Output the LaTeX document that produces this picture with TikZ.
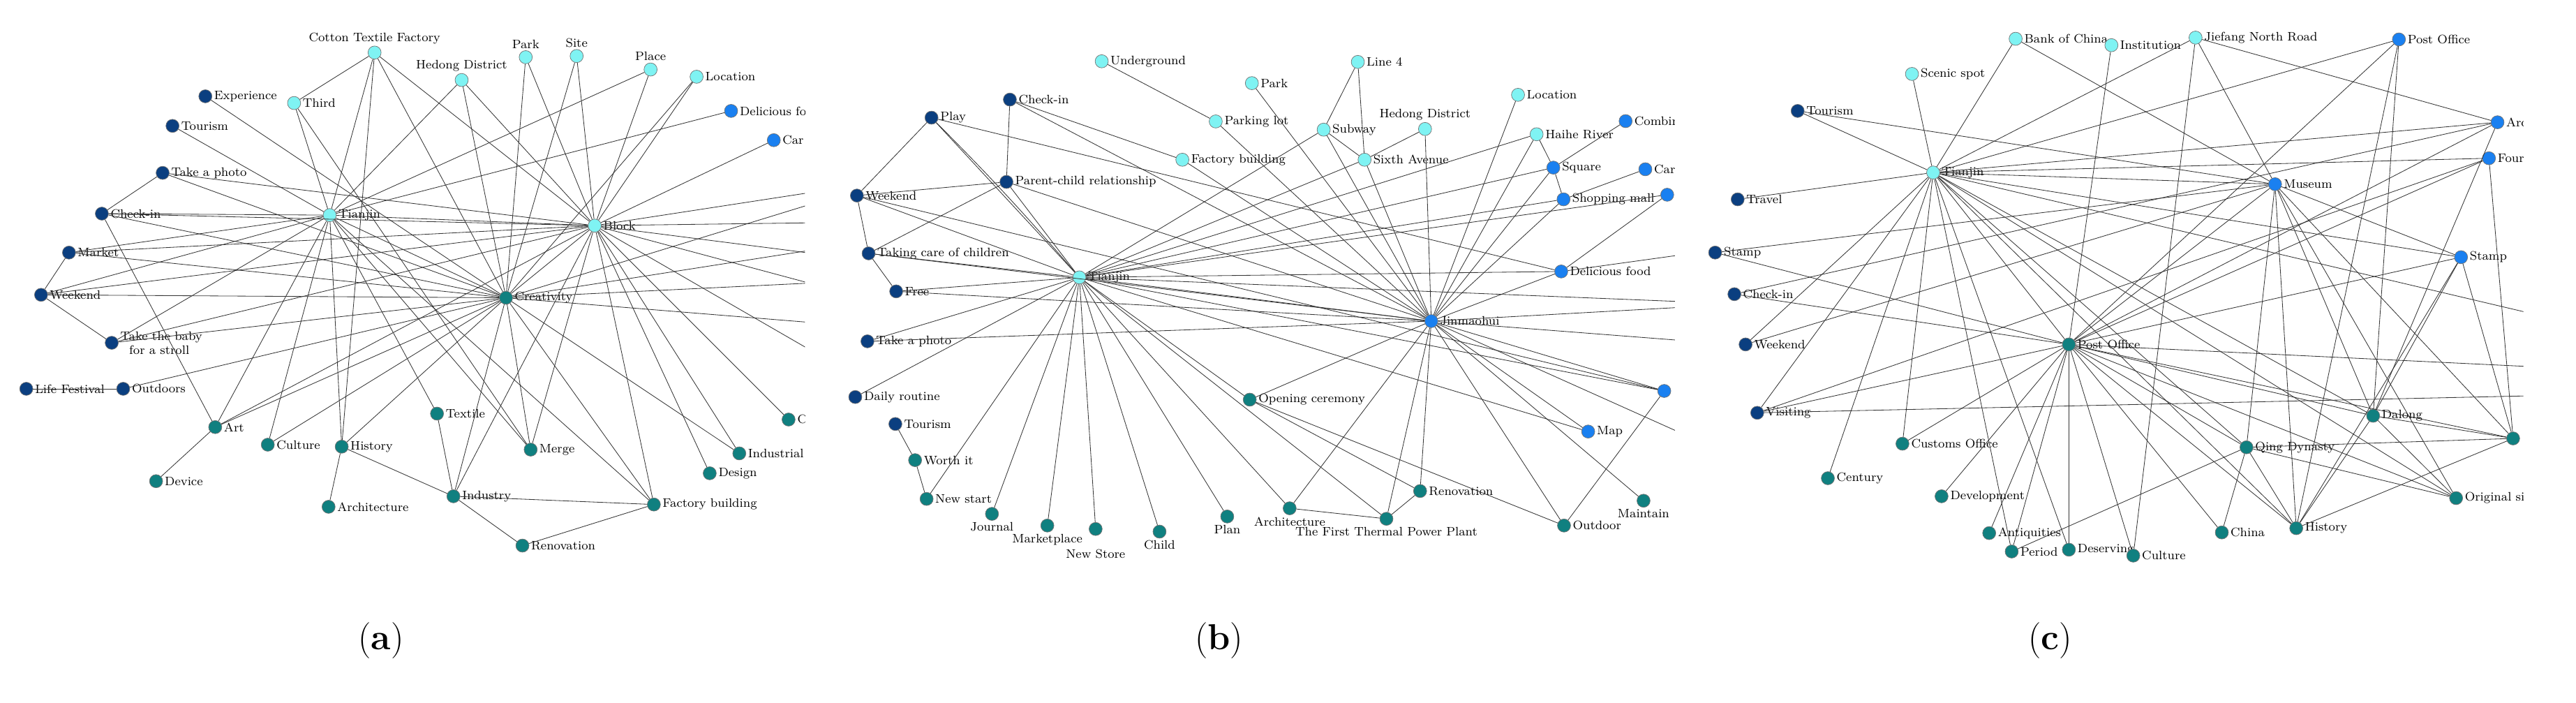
\documentclass[tikz,border=0pt]{standalone}
\begin{document}
\definecolor{cNavy}{HTML}{0B3F80}
\definecolor{cCyan}{HTML}{7FF3F3}
\definecolor{cBlue}{HTML}{1A80F0}
\definecolor{cTeal}{HTML}{108080}
\tikzset{
 nd/.style={circle,draw=black!55,line width=0.3pt,minimum size=8pt,inner sep=0pt},
 lab/.style={font=\fontsize{7.5}{8.5}\selectfont,inner sep=1pt,label distance=0pt},
 e/.style={draw=black!80,line width=0.35pt},
 panelcap/.style={font=\fontsize{22}{24}\selectfont}
}
\newcommand\nd[6]{\node[nd,fill=#4,label={[lab]#5:#6}] (#1) at (#2,-#3) {};}
\begin{tikzpicture}[x=1pt,y=1pt]
\useasboundingbox (0,0) rectangle (1568,-427.4);
\fill[white] (0,0) rectangle (1568,-427.4);
% ================= panel a
\begin{scope}
\clip (0,0) rectangle (490,-360);
\nd{aCot}{228}{32}{cCyan}{above}{Cotton Textile Factory}
\nd{aThi}{179}{62.7}{cCyan}{right}{Third}
\nd{aHed}{281}{48.7}{cCyan}{above}{Hedong District}
\nd{aPar}{320}{34.8}{cCyan}{above}{Park}
\nd{aSit}{351}{34.1}{cCyan}{above}{Site}
\nd{aPla}{396}{42.3}{cCyan}{above}{Place}
\nd{aLoc}{424}{46.7}{cCyan}{right}{Location}
\nd{aDel}{445}{67.5}{cBlue}{right}{Delicious food}
\nd{aCar}{471}{85.3}{cBlue}{right}{Car}
\nd{aExp}{125}{58.6}{cNavy}{right}{Experience}
\nd{aTou}{105}{76.6}{cNavy}{right}{Tourism}
\nd{aPho}{99}{105.2}{cNavy}{right}{Take a photo}
\nd{aChk}{62}{130}{cNavy}{right}{Check-in}
\nd{aMar}{42}{153.7}{cNavy}{right}{Market}
\nd{aWee}{25}{179.4}{cNavy}{right}{Weekend}
\node[nd,fill=cNavy,label={[lab,align=left]right:Take the baby\\ \ \ for a stroll}] (aBab) at (68,-208.6) {};
\nd{aLif}{16}{236.6}{cNavy}{right}{Life Festival}
\nd{aOut}{75}{236.6}{cNavy}{right}{Outdoors}
\nd{aTia}{200.7}{130.9}{cCyan}{right}{Tianjin}
\nd{aBlo}{362}{137.3}{cCyan}{right}{Block}
\nd{aCre}{308}{181.2}{cTeal}{right}{Creativity}
\nd{aArt}{131}{259.9}{cTeal}{right}{Art}
\nd{aCul}{163}{270.6}{cTeal}{right}{Culture}
\nd{aHis}{208}{271.8}{cTeal}{right}{History}
\nd{aTex}{266}{251.7}{cTeal}{right}{Textile}
\nd{aMer}{323}{273.6}{cTeal}{right}{Merge}
\nd{aInl}{450}{275.9}{cTeal}{right}{Industrial}
\nd{aDes}{432}{288}{cTeal}{right}{Design}
\nd{aFac}{398}{307}{cTeal}{right}{Factory building}
\nd{aInd}{276}{302}{cTeal}{right}{Industry}
\nd{aRen}{318}{332}{cTeal}{right}{Renovation}
\nd{aArc}{200}{308.4}{cTeal}{right}{Architecture}
\nd{aDev}{95}{292.8}{cTeal}{right}{Device}
\nd{aC}{480}{255.3}{cTeal}{right}{Creative}
\coordinate (aR1) at (540,-135);
\coordinate (aR2) at (540,-160);
\coordinate (aR3) at (540,-185);
\coordinate (aR4) at (540,-240);
\coordinate (aR5) at (540,-145);
\coordinate (aR6) at (540,-170);
\coordinate (aR7) at (540,-200);
\coordinate (aR8) at (540,-110);
\foreach \a/\b in {aCot/aThi,aCot/aTia,aCot/aCre,aCot/aBlo,aCot/aHis,aHed/aTia,aHed/aCre,aHed/aBlo,
 aPar/aBlo,aPar/aCre,aSit/aBlo,aSit/aCre,aPla/aTia,aPla/aBlo,aLoc/aBlo,aLoc/aCre,aDel/aTia,aCar/aBlo,
 aExp/aCre,aTou/aTia,aPho/aChk,aPho/aBlo,aPho/aCre,aChk/aTia,aChk/aBlo,aChk/aArt,aChk/aCre,
 aMar/aWee,aMar/aTia,aMar/aBlo,aMar/aCre,aWee/aBab,aWee/aCre,aWee/aTia,aWee/aBlo,aBab/aTia,aBab/aCre,aBab/aBlo,
 aLif/aOut,aOut/aCre,aThi/aTia,aThi/aMer,aArt/aTia,aArt/aCre,aArt/aBlo,aArt/aDev,aCul/aTia,aCul/aCre,
 aHis/aTia,aHis/aCre,aHis/aArc,aHis/aInd,aTex/aTia,aTex/aInd,aMer/aTia,aMer/aCre,aMer/aBlo,
 aInd/aCre,aInd/aBlo,aInd/aFac,aInd/aRen,aFac/aBlo,aFac/aCre,aFac/aTia,aFac/aRen,aDes/aBlo,aInl/aCre,aInl/aBlo,aC/aBlo,
 aTia/aBlo,aTia/aCre,aBlo/aCre,aBlo/aR1,aBlo/aR2,aBlo/aR3,aBlo/aR4,aCre/aR5,aCre/aR6,aCre/aR7,aCre/aR8,aBlo/aR8}
 \draw[e] (\a)--(\b);
\end{scope}
% ================= panel b
\begin{scope}
\clip (495,0) rectangle (1019.5,-360);
\nd{bUnd}{670.6}{37.3}{cCyan}{right}{Underground}
\nd{bPar}{762}{50.6}{cCyan}{right}{Park}
\nd{bLin}{826.5}{37.7}{cCyan}{right}{Line 4}
\nd{bPkl}{740}{73.9}{cCyan}{right}{Parking lot}
\nd{bSub}{805.7}{78.9}{cCyan}{right}{Subway}
\nd{bHed}{867.4}{78.5}{cCyan}{above}{Hedong District}
\nd{bSix}{830.6}{97.2}{cCyan}{right}{Sixth Avenue}
\nd{bFac}{719.7}{97.2}{cCyan}{right}{Factory building}
\nd{bLoc}{924}{57.7}{cCyan}{right}{Location}
\nd{bHai}{935.3}{81.7}{cCyan}{right}{Haihe River}
\nd{bCom}{989.5}{73.7}{cBlue}{right}{Combination}
\nd{bSqu}{945.5}{102}{cBlue}{right}{Square}
\nd{bCa}{1001.5}{103}{cBlue}{right}{Car}
\nd{bSho}{951.7}{121.3}{cBlue}{right}{Shopping mall}
\nd{bX1}{1014.8}{118.5}{cBlue}{right}{}
\nd{bDel}{950.3}{165.2}{cBlue}{right}{Delicious food}
\nd{bChk}{614.7}{60.6}{cNavy}{right}{Check-in}
\nd{bPla}{567}{71.6}{cNavy}{right}{Play}
\nd{bPcr}{612.6}{110.7}{cNavy}{right}{Parent-child relationship}
\nd{bWee}{521.6}{119}{cNavy}{right}{Weekend}
\nd{bTak}{528.7}{154.2}{cNavy}{right}{Taking care of children}
\nd{bFre}{545.5}{177.3}{cNavy}{right}{Free}
\nd{bPho}{528}{207.7}{cNavy}{right}{Take a photo}
\nd{bDai}{520.6}{241.6}{cNavy}{right}{Daily routine}
\nd{bTou}{545}{258}{cNavy}{right}{Tourism}
\nd{bWor}{557}{280}{cTeal}{right}{Worth it}
\nd{bNew}{564}{303.6}{cTeal}{right}{New start}
\nd{bJou}{603.8}{312.7}{cTeal}{below}{Journal}
\nd{bMkt}{637.5}{319.8}{cTeal}{below}{Marketplace}
\node[nd,fill=cTeal,label={[lab,label distance=7pt]below:New Store}] (bNst) at (666.9,-321.9) {};
\nd{bChi}{705.8}{323.5}{cTeal}{below}{Child}
\nd{bPln}{747}{314.3}{cTeal}{below}{Plan}
\nd{bArc}{785}{309.3}{cTeal}{below}{Architecture}
\nd{bThe}{843.9}{315.7}{cTeal}{below}{The First Thermal Power Plant}
\nd{bRen}{864.4}{298.8}{cTeal}{right}{Renovation}
\nd{bOut}{952}{319.8}{cTeal}{right}{Outdoor}
\nd{bMai}{1000.4}{304.7}{cTeal}{below}{Maintain}
\nd{bMap}{966.7}{262.6}{cBlue}{right}{Map}
\nd{bX2}{1013}{237.9}{cBlue}{right}{}
\nd{bOpe}{760.7}{243.2}{cTeal}{right}{Opening ceremony}
\nd{bTia}{657}{168.8}{cCyan}{right}{Tianjin}
\nd{bJin}{871.2}{195.4}{cBlue}{right}{Jinmaohui}
\coordinate (bR1) at (1060,-185);
\coordinate (bR2) at (1060,-210);
\coordinate (bR3) at (1060,-150);
\coordinate (bR4) at (1060,-280);
\foreach \a/\b in {bUnd/bPkl,bPkl/bJin,bPar/bJin,bLin/bSub,bLin/bSix,bSub/bSix,bSub/bTia,bSub/bJin,bHed/bSix,bHed/bJin,
 bSix/bTia,bSix/bJin,bFac/bChk,bFac/bJin,bLoc/bJin,bHai/bTia,bHai/bJin,bHai/bSqu,bCom/bSqu,bSqu/bSho,bSqu/bTia,bSqu/bJin,
 bCa/bSho,bSho/bTia,bSho/bJin,bX1/bDel,bX1/bTia,bDel/bTia,bDel/bJin,bDel/bPla,bChk/bPcr,bChk/bJin,bPla/bWee,bPla/bTia,
 bPcr/bWee,bPcr/bTak,bPcr/bTia,bPcr/bJin,bWee/bTak,bWee/bTia,bWee/bX2,bTak/bFre,bTak/bTia,bTak/bJin,bFre/bTia,bFre/bJin,
 bPho/bJin,bPho/bTia,bDai/bTia,bTou/bWor,bWor/bNew,bNew/bTia,bJou/bTia,bMkt/bTia,bNst/bTia,bChi/bTia,bPln/bTia,
 bArc/bTia,bArc/bJin,bThe/bTia,bThe/bJin,bThe/bRen,bThe/bArc,bRen/bJin,bRen/bOpe,bOpe/bTia,bOpe/bJin,bOpe/bOut,
 bOut/bJin,bOut/bX2,bMai/bJin,bMap/bTia,bMap/bJin,bX2/bJin,bX2/bTia,bTia/bJin,bJin/bR1,bTia/bR1,bJin/bR2,bDel/bR3,bJin/bR4}
 \draw[e] (\a)--(\b);
\draw[e] (bPla) to[bend left=2] (bTia);
\end{scope}
% ================= panel c
\begin{scope}
\clip (1030,0) rectangle (1536,-360);
\nd{cBoc}{1226.9}{23.6}{cCyan}{right}{Bank of China}
\nd{cIns}{1285.2}{27.5}{cCyan}{right}{Institution}
\nd{cJie}{1336.4}{22.9}{cCyan}{right}{Jiefang North Road}
\nd{cPob}{1460.2}{24}{cBlue}{right}{Post Office}
\nd{cSce}{1163.8}{45}{cCyan}{right}{Scenic spot}
\nd{cTou}{1094.2}{67.5}{cNavy}{right}{Tourism}
\nd{cTia}{1176.7}{105}{cCyan}{right}{Tianjin}
\nd{cTra}{1057.7}{121.3}{cNavy}{right}{Travel}
\nd{cSt1}{1044}{153.7}{cNavy}{right}{Stamp}
\nd{cChk}{1055.7}{179}{cNavy}{right}{Check-in}
\nd{cWee}{1062.5}{209.6}{cNavy}{right}{Weekend}
\nd{cVis}{1069.6}{251.2}{cNavy}{right}{Visiting}
\nd{cMus}{1384.8}{112.1}{cBlue}{right}{Museum}
\nd{cAr}{1520.2}{74.4}{cBlue}{right}{Architecture}
\nd{cFou}{1515}{96.3}{cBlue}{right}{Four}
\nd{cSt2}{1498}{156.5}{cBlue}{right}{Stamp}
\nd{cPog}{1259.3}{209.6}{cTeal}{right}{Post Office}
\nd{cCus}{1158}{270}{cTeal}{right}{Customs Office}
\nd{cCen}{1112.6}{291}{cTeal}{right}{Century}
\nd{cDev}{1181.8}{302}{cTeal}{right}{Development}
\nd{cAnt}{1210.8}{324.4}{cTeal}{right}{Antiquities}
\nd{cPer}{1224.5}{335.6}{cTeal}{right}{Period}
\nd{cDes}{1259.3}{334.5}{cTeal}{right}{Deserving}
\nd{cCul}{1298.5}{338.1}{cTeal}{right}{Culture}
\nd{cChi}{1352.4}{324}{cTeal}{right}{China}
\nd{cHis}{1397.7}{321.4}{cTeal}{right}{History}
\nd{cQin}{1367.4}{272.2}{cTeal}{right}{Qing Dynasty}
\nd{cDal}{1444.5}{253}{cTeal}{right}{Dalong}
\nd{cOri}{1495}{303.1}{cTeal}{right}{Original site}
\nd{cX}{1529.7}{266.8}{cTeal}{right}{}
\coordinate (cR1) at (1580,-240);
\coordinate (cR2) at (1580,-225);
\coordinate (cR3) at (1580,-200);
\foreach \a/\b in {cBoc/cTia,cBoc/cMus,cIns/cPog,cJie/cTia,cJie/cMus,cJie/cAr,cJie/cCul,cPob/cTia,cPob/cPog,cPob/cDal,cPob/cHis,
 cSce/cTia,cTou/cTia,cTou/cMus,cTra/cTia,cSt1/cMus,cSt1/cPog,cChk/cPog,cChk/cAr,cWee/cTia,cWee/cMus,cVis/cTia,cVis/cFou,cVis/cR1,cVis/cPog,
 cMus/cTia,cMus/cPog,cMus/cDal,cMus/cHis,cMus/cQin,cMus/cSt2,cMus/cOri,cMus/cX,cAr/cTia,cAr/cPog,cAr/cDal,cFou/cTia,cFou/cPog,cFou/cX,
 cSt2/cTia,cSt2/cPog,cSt2/cDal,cSt2/cHis,cSt2/cX,cPog/cTia,cPog/cCus,cPog/cDev,cPog/cAnt,cPog/cPer,cPog/cDes,cPog/cCul,cPog/cChi,cPog/cHis,
 cPog/cQin,cPog/cDal,cPog/cOri,cPog/cX,cPog/cR2,cTia/cCus,cTia/cCen,cTia/cPer,cTia/cDes,cTia/cQin,cTia/cHis,cTia/cDal,cTia/cOri,cTia/cR3,
 cQin/cChi,cQin/cPer,cQin/cHis,cQin/cOri,cQin/cX,cDal/cOri,cDal/cX,cDal/cHis,cHis/cX}
 \draw[e] (\a)--(\b);
\end{scope}
\node[panelcap] (capa) at (232,-390) {(\textbf{a})};
\node[panelcap] (capb) at (742,-390) {(\textbf{b})};
\node[panelcap] (capc) at (1248,-390) {(\textbf{c})};
\end{tikzpicture}
\end{document}
